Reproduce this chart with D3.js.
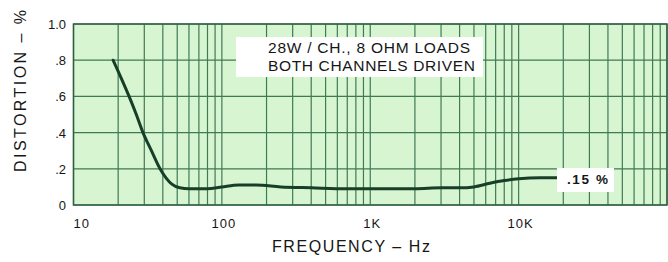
<!DOCTYPE html>
<html>
<head>
<meta charset="utf-8">
<script src="https://cdn.jsdelivr.net/npm/d3@7"></script>
<style>
  body { margin: 0; background: #fff; }
  svg text { font-family: "Liberation Sans", "DejaVu Sans", sans-serif; fill: #161616; }
</style>
</head>
<body>
<script>
// distortion curve
const freqs = [18.5, 21, 23.7, 26.5, 29.4, 33.5, 38.3, 42, 46, 52, 60, 80, 100, 130, 170, 250, 400, 700, 1000, 2000, 3000, 4000, 5000, 6400, 8000, 10000, 14000, 19000];
const distortion = [0.80, 0.70, 0.60, 0.50, 0.40, 0.30, 0.20, 0.15, 0.115, 0.095, 0.09, 0.09, 0.10, 0.11, 0.11, 0.10, 0.095, 0.09, 0.09, 0.09, 0.095, 0.095, 0.10, 0.12, 0.135, 0.145, 0.15, 0.15];

const yTicks = [0, 0.2, 0.4, 0.6, 0.8, 1.0];
const yTickLabels = ["0", ".2", ".4", ".6", ".8", "1.0"];
const xTicks = [10, 100, 1000, 10000];
const xTickLabels = ["10", "100", "1K", "10K"];

const width = 668, height = 262;
const plotLeft = 73.5, plotRight = 667, plotTop = 24, plotBottom = 205;

const svg = d3.select("body").append("svg")
    .attr("width", width)
    .attr("height", height);

const x = d3.scaleLog().domain([10, 100000]).range([plotLeft, plotRight]);
const y = d3.scaleLinear().domain([0, 1]).range([plotBottom, plotTop]);

// plot background
svg.append("rect")
    .attr("x", plotLeft).attr("y", plotTop)
    .attr("width", plotRight - plotLeft).attr("height", plotBottom - plotTop)
    .attr("fill", "#d8f5d2");

const gridColor = "#3f7a55";

// vertical grid (1..9 per decade)
svg.append("g")
    .selectAll("line")
    .data(x.ticks())
    .enter()
    .append("line")
    .attr("x1", d => x(d)).attr("x2", d => x(d))
    .attr("y1", plotTop).attr("y2", plotBottom)
    .attr("stroke", gridColor)
    .attr("stroke-width", 1.2);

// horizontal grid
svg.append("g")
    .selectAll("line")
    .data(yTicks)
    .enter()
    .append("line")
    .attr("x1", plotLeft).attr("x2", plotRight)
    .attr("y1", d => y(d)).attr("y2", d => y(d))
    .attr("stroke", gridColor)
    .attr("stroke-width", 1.2);

// frame
svg.append("rect")
    .attr("x", plotLeft).attr("y", plotTop)
    .attr("width", plotRight - plotLeft).attr("height", plotBottom - plotTop)
    .attr("fill", "none")
    .attr("stroke", "#2f5f42")
    .attr("stroke-width", 1.5);

// note box
svg.append("rect")
    .attr("x", 236).attr("y", 37).attr("width", 247).attr("height", 40)
    .attr("fill", "#fff");
svg.append("text")
    .attr("x", 268).attr("y", 53)
    .attr("font-size", 15.5)
    .attr("textLength", 202).attr("lengthAdjust", "spacing")
    .text("28W / CH., 8 OHM LOADS");
svg.append("text")
    .attr("x", 268).attr("y", 71)
    .attr("font-size", 15.5)
    .attr("textLength", 207).attr("lengthAdjust", "spacing")
    .text("BOTH CHANNELS DRIVEN");

// curve
const line = d3.line()
    .x((d, i) => x(freqs[i]))
    .y(d => y(d))
    .curve(d3.curveMonotoneX);

svg.append("path")
    .attr("d", line(distortion))
    .attr("fill", "none")
    .attr("stroke", "#173f27")
    .attr("stroke-width", 3)
    .attr("stroke-linecap", "round");

// end label
svg.append("rect")
    .attr("x", 557).attr("y", 168).attr("width", 57).attr("height", 24)
    .attr("fill", "#fff");
svg.append("text")
    .attr("x", 567).attr("y", 184)
    .attr("font-size", 13.5)
    .attr("font-weight", "bold")
    .attr("textLength", 41).attr("lengthAdjust", "spacing")
    .text(".15 %");

// y tick labels
svg.append("g")
    .selectAll("text")
    .data(yTicks)
    .enter()
    .append("text")
    .attr("x", 66)
    .attr("y", d => y(d) + 5)
    .attr("text-anchor", "end")
    .attr("font-size", 13)
    .text((d, i) => yTickLabels[i]);

// x tick labels
svg.append("g")
    .selectAll("text")
    .data(xTicks)
    .enter()
    .append("text")
    .attr("x", (d, i) => i === 0 ? x(d) : x(d) + 2)
    .attr("y", 228)
    .attr("text-anchor", (d, i) => i === 0 ? "start" : "middle")
    .attr("font-size", 13)
    .attr("letter-spacing", 1)
    .text((d, i) => xTickLabels[i]);

// axis titles
svg.append("text")
    .attr("transform", "translate(26,172) rotate(-90)")
    .attr("font-size", 16)
    .attr("textLength", 162).attr("lengthAdjust", "spacing")
    .text("DISTORTION – %");

svg.append("text")
    .attr("x", 272).attr("y", 252)
    .attr("font-size", 16)
    .attr("textLength", 158).attr("lengthAdjust", "spacing")
    .text("FREQUENCY – Hz");
</script>
</body>
</html>
